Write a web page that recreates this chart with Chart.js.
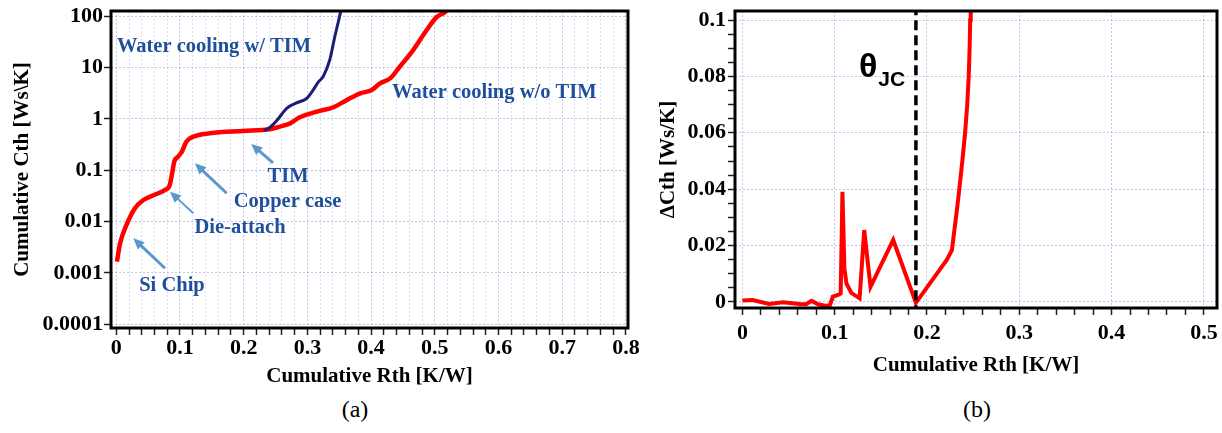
<!DOCTYPE html>
<html>
<head>
<meta charset="utf-8">
<title>Structure functions</title>
<script src="https://cdn.jsdelivr.net/npm/chart.js@4.4.1/dist/chart.umd.min.js"></script>
<style>
  body { margin:0; background:#fff; width:1222px; height:433px; overflow:hidden; position:relative; font-family:'Liberation Serif', serif; }
  .panel { position:absolute; top:0; height:395px; }
  #cum-wrap { left:0; width:660px; }
  #delta-wrap { left:640px; width:582px; }
  .caption { position:absolute; font-size:24px; transform:translateX(-50%); }
</style>
</head>
<body>
<div class="panel" id="cum-wrap"><canvas id="cum-chart"></canvas></div>
<div class="panel" id="delta-wrap"><canvas id="delta-chart"></canvas></div>
<div class="caption" style="left:355px;top:396px">(a)</div>
<div class="caption" style="left:977px;top:396px">(b)</div>
<script>
// cumulative structure function, water cooling without TIM
const rthNoTim = [0.001, 0.006, 0.016, 0.029, 0.042, 0.063, 0.076, 0.084, 0.0885, 0.091, 0.097, 0.103, 0.11, 0.121, 0.147, 0.199, 0.24, 0.257, 0.273, 0.288, 0.315, 0.341, 0.362, 0.383, 0.401, 0.414, 0.43, 0.445, 0.466, 0.487, 0.503, 0.516, 0.522];
const cthNoTim = [0.00165, 0.0038, 0.0086, 0.018, 0.026, 0.0345, 0.041, 0.052, 0.1, 0.147, 0.184, 0.231, 0.361, 0.452, 0.526, 0.583, 0.63, 0.71, 0.82, 1.08, 1.39, 1.69, 2.34, 3.15, 3.66, 4.93, 6.17, 10.4, 21.9, 53.5, 97, 121, 150];

// cumulative structure function, water cooling with TIM (splits off the red curve)
const rthTim = [0.232, 0.241, 0.252, 0.2675, 0.283, 0.299, 0.309, 0.317, 0.325, 0.335, 0.343, 0.349, 0.352, 0.355];
const cthTim = [0.6, 0.68, 0.93, 1.61, 2.05, 2.53, 3.66, 5.2, 6.8, 14, 40, 83, 120, 160];

// differential Cth between the two curves
const rthDelta = [0.0, 0.011, 0.029, 0.044, 0.062, 0.069, 0.075, 0.082, 0.091, 0.095, 0.098, 0.1036, 0.1065, 0.1084, 0.1105, 0.1127, 0.118, 0.127, 0.132, 0.1388, 0.1634, 0.188, 0.2214, 0.227, 0.2295, 0.2322, 0.235, 0.2383, 0.2413, 0.2436, 0.2452, 0.2462, 0.2468, 0.2474];
const dCth = [0.0005, 0.0007, -0.0007, -0.0001, -0.0007, -0.0008, 0.0004, -0.0008, -0.0014, -0.001, 0.0019, 0.0025, 0.003, 0.0391, 0.012, 0.0066, 0.0032, 0.0013, 0.0255, 0.0054, 0.022, -0.0003, 0.0149, 0.0184, 0.025, 0.032, 0.04, 0.05, 0.06, 0.07, 0.08, 0.09, 0.1, 0.115];
const thetaJC = 0.188;

// tick labels
const cthTicks = [0.0001, 0.001, 0.01, 0.1, 1, 10, 100];
const rthTicksA = [0, 0.1, 0.2, 0.3, 0.4, 0.5, 0.6, 0.7, 0.8];
const rthTicksB = [0, 0.1, 0.2, 0.3, 0.4, 0.5];
const dCthTicks = [0, 0.02, 0.04, 0.06, 0.08, 0.1];

const serif = 'Liberation Serif';
const gridColor = 'rgba(150,150,215,0.55)';
const minorGrid = 'rgba(170,170,225,0.42)';
const textBlue = '#1f4e9c';
const arrowBlue = '#5b97cc';

const pts = (xs, ys) => xs.map((x, i) => ({ x, y: ys[i] }));
const steps = (n, div) => Array.from({ length: n + 1 }, (_, i) => ({ value: i / div }));
const tickFont = { family: serif, size: 22, weight: 'bold' };
const titleFont = { family: serif, size: 21, weight: 'bold' };

const frame = {
  id: 'frame',
  afterDraw(chart) {
    const { ctx, chartArea: a } = chart;
    ctx.save();
    ctx.lineWidth = 3;
    ctx.strokeStyle = '#000';
    ctx.strokeRect(a.left, a.top, a.right - a.left, a.bottom - a.top);
    ctx.restore();
  }
};

function drawArrow(ctx, x1, y1, x2, y2, w) {
  const ang = Math.atan2(y2 - y1, x2 - x1);
  const len = 11, half = 5;
  ctx.lineWidth = w;
  ctx.beginPath();
  ctx.moveTo(x1, y1);
  ctx.lineTo(x2 - Math.cos(ang) * len * 0.8, y2 - Math.sin(ang) * len * 0.8);
  ctx.stroke();
  ctx.beginPath();
  ctx.moveTo(x2, y2);
  ctx.lineTo(x2 - Math.cos(ang) * len + Math.sin(ang) * half, y2 - Math.sin(ang) * len - Math.cos(ang) * half);
  ctx.lineTo(x2 - Math.cos(ang) * len - Math.sin(ang) * half, y2 - Math.sin(ang) * len + Math.cos(ang) * half);
  ctx.closePath();
  ctx.fill();
}

// labels and arrows inside panel (a), placed in data units
const notes = [
  { text: 'Water cooling w/ TIM', x: 0.001, y: 25.7, align: 'left' },
  { text: 'Water cooling w/o TIM', x: 0.433, y: 3.21, align: 'left' },
  { text: 'TIM', x: 0.2696, y: 0.074, align: 'center' },
  { text: 'Copper case', x: 0.2688, y: 0.0241, align: 'center' },
  { text: 'Die-attach', x: 0.1942, y: 0.0075, align: 'center' },
  { text: 'Si Chip', x: 0.0874, y: 0.000556, align: 'center' }
];
const arrows = [
  { from: [0.246, 0.1387], to: [0.2118, 0.326], w: 3 },
  { from: [0.1733, 0.0356], to: [0.1235, 0.1368], w: 3 },
  { from: [0.1209, 0.01452], to: [0.0843, 0.0383], w: 1.8 },
  { from: [0.0765, 0.00123], to: [0.0267, 0.00472], w: 3 }
];

const cumNotes = {
  id: 'cumNotes',
  afterDatasetsDraw(chart) {
    const { ctx, scales: { x, y } } = chart;
    ctx.save();
    ctx.strokeStyle = arrowBlue;
    ctx.fillStyle = arrowBlue;
    arrows.forEach(a => drawArrow(ctx,
      x.getPixelForValue(a.from[0]), y.getPixelForValue(a.from[1]),
      x.getPixelForValue(a.to[0]), y.getPixelForValue(a.to[1]), a.w));
    ctx.fillStyle = textBlue;
    ctx.font = `bold 20.5px ${serif}`;
    ctx.textBaseline = 'middle';
    notes.forEach(n => {
      ctx.textAlign = n.align;
      ctx.fillText(n.text, x.getPixelForValue(n.x), y.getPixelForValue(n.y));
    });
    ctx.restore();
  }
};

const thetaLabel = {
  id: 'thetaLabel',
  afterDatasetsDraw(chart) {
    const { ctx, scales: { x, y } } = chart;
    const px = x.getPixelForValue(0.1263), py = y.getPixelForValue(0.0798);
    ctx.save();
    ctx.fillStyle = '#000';
    ctx.textBaseline = 'alphabetic';
    ctx.textAlign = 'left';
    ctx.font = 'bold 34px "Liberation Sans"';
    ctx.fillText('θ', px, py);
    const w = ctx.measureText('θ').width;
    ctx.font = 'bold 21px "Liberation Sans"';
    ctx.fillText('JC', px + w + 1, py + 9);
    ctx.restore();
  }
};

const commonGrid = (isMajor, minorCol) => ({
  color: c => (c.tick && isMajor(c.tick.value)) ? gridColor : minorCol,
  lineWidth: 1,
  tickLength: 7,
  tickColor: '#222',
  tickWidth: 1.5,
  tickBorderDash: []
});

new Chart(document.getElementById('cum-chart'), {
  type: 'line',
  data: {
    datasets: [
      { data: pts(rthTim, cthTim), borderColor: '#1b1b78', borderWidth: 3, pointRadius: 0, cubicInterpolationMode: 'monotone', clip: 0 },
      { data: pts(rthNoTim, cthNoTim), borderColor: '#ff0000', borderWidth: 4.5, pointRadius: 0, cubicInterpolationMode: 'monotone', clip: 0 }
    ]
  },
  options: {
    responsive: true,
    maintainAspectRatio: false,
    animation: false,
    layout: { padding: { top: 11, right: 32, bottom: 0, left: 0 } },
    plugins: { legend: { display: false }, tooltip: { enabled: false } },
    scales: {
      x: {
        type: 'linear', min: -0.0083, max: 0.8033,
        afterBuildTicks: s => { s.ticks = steps(40, 50); },
        afterFit: s => { s.height = 67; s.paddingLeft = 0; s.paddingRight = 0; },
        ticks: { autoSkip: false, maxRotation: 0, padding: 0, color: '#000', font: tickFont,
          callback: v => rthTicksA.includes(v) ? String(v) : '' },
        grid: commonGrid(v => rthTicksA.includes(v), minorGrid),
        border: { display: false, dash: [2, 2] },
        title: { display: true, text: 'Cumulative Rth [K/W]', color: '#000', font: titleFont, padding: { top: 0, bottom: 6 } }
      },
      y: {
        type: 'logarithmic', min: 8.43e-5, max: 127,
        afterBuildTicks: s => { s.ticks = cthTicks.map(v => ({ value: v })); },
        afterFit: s => { s.width = 111; s.paddingTop = 0; s.paddingBottom = 0; },
        ticks: { autoSkip: false, padding: 1, color: '#000', font: tickFont, callback: v => String(v) },
        grid: commonGrid(() => true, gridColor),
        border: { display: false, dash: [2, 2] },
        title: { display: true, text: 'Cumulative Cth [Ws\\K]', color: '#000', font: titleFont, padding: { top: 10, bottom: 0 } }
      }
    }
  },
  plugins: [cumNotes, frame]
});

new Chart(document.getElementById('delta-chart'), {
  type: 'line',
  data: {
    datasets: [
      { data: [{ x: thetaJC, y: -0.01 }, { x: thetaJC, y: 0.2 }], borderColor: '#000', borderWidth: 3.5, borderDash: [10, 5], pointRadius: 0, clip: 0 },
      { data: pts(rthDelta, dCth), borderColor: '#ff0000', borderWidth: 4, pointRadius: 0, tension: 0, clip: 0 }
    ]
  },
  options: {
    responsive: true,
    maintainAspectRatio: false,
    animation: false,
    layout: { padding: { top: 11, right: 5, bottom: 0, left: 0 } },
    plugins: { legend: { display: false }, tooltip: { enabled: false } },
    scales: {
      x: {
        type: 'linear', min: -0.008, max: 0.5142,
        afterBuildTicks: s => { s.ticks = steps(25, 50); },
        afterFit: s => { s.height = 87; s.paddingLeft = 0; s.paddingRight = 0; },
        ticks: { autoSkip: false, maxRotation: 0, padding: 5, color: '#000', font: tickFont,
          callback: v => rthTicksB.includes(v) ? String(v) : '' },
        grid: commonGrid(v => rthTicksB.includes(v), 'rgba(0,0,0,0)'),
        border: { display: false, dash: [2, 2] },
        title: { display: true, text: 'Cumulative Rth [K/W]', color: '#000', font: titleFont, padding: { top: 0, bottom: 17 } }
      },
      y: {
        type: 'linear', min: -0.00213, max: 0.1032,
        afterBuildTicks: s => { s.ticks = steps(20, 200); },
        afterFit: s => { s.width = 95; s.paddingTop = 0; s.paddingBottom = 0; },
        ticks: { autoSkip: false, padding: 2, color: '#000', font: tickFont,
          callback: v => dCthTicks.includes(v) ? String(v) : '' },
        grid: commonGrid(v => dCthTicks.includes(v), 'rgba(0,0,0,0)'),
        border: { display: false, dash: [2, 2] },
        title: { display: true, text: 'ΔCth [Ws/K]', color: '#000', font: titleFont, padding: { top: 16, bottom: 0 } }
      }
    }
  },
  plugins: [thetaLabel, frame]
});
</script>
</body>
</html>
